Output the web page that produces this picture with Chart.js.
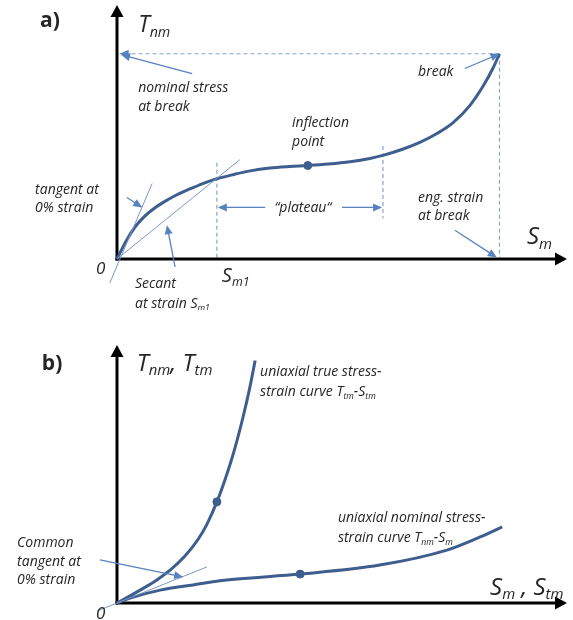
<!DOCTYPE html>
<html><head><meta charset="utf-8">
<script src="https://cdn.jsdelivr.net/npm/chart.js@4.4.1/dist/chart.umd.min.js"></script>
<style>
html,body{margin:0;padding:0;background:#fff;}
#wrap{position:relative;width:573px;height:620px;overflow:hidden;}
canvas{position:absolute;left:0;}
</style></head><body>
<div id="wrap">
<canvas id="ca" width="573" height="310" style="top:0"></canvas>
<canvas id="cb" width="573" height="310" style="top:310px"></canvas>
</div>
<script>
// ---------- data (strain %, stress, arbitrary units) ----------
// panel a: nominal stress-strain curve
const strainA = [0, 2, 4, 6, 8, 10, 13, 16.9, 19.5, 22.2, 26, 29.6, 34, 38.4, 42.4, 47, 51.8, 56.2, 59.1, 63.6, 67.3, 71.1, 74.7, 78.4, 81.3, 83.6, 85.0];
const stressA = [0, 7.0, 12.6, 16.6, 19.6, 22.0, 25.0, 28.1, 30.0, 31.6, 33.3, 34.7, 35.8, 36.4, 36.8, 37.4, 38.3, 39.6, 40.8, 43.3, 45.9, 49.4, 53.7, 60.4, 67.9, 75.3, 80.8];
const inflectionA = [42.4, 36.8];
const strainM1 = 22.2, plateauEnd = 59.1;
const breakA = [85.0, 80.8];
const tangentA_x = [-1.6, 7.8], tangentA_y = [-9.4, 29.7];
const secantA_x = [0, 27.3], secantA_y = [0, 39.1];
// panel b
const strainTrue = [0, 3, 6, 9, 12, 15, 18, 20, 22.2, 24, 26, 28, 29.5, 30.7];
const stressTrue = [0, 2.85, 5.85, 9.15, 13.05, 18.0, 24.6, 30.6, 39.2, 47.8, 58.8, 72.0, 83.4, 94.0];
const strainNom = [0, 2.9, 9.6, 16.9, 24.4, 40.7, 58.4, 73.3, 80.7, 85.6];
const stressNom = [0, 1.9, 5.0, 7.0, 8.9, 11.2, 14.7, 20.5, 25.6, 29.5];
const dotTrue = [22.2, 39.2], dotNom = [40.7, 11.2];
const tangentB_x = [-4.4, 20], tangentB_y = [-3.1, 14];

const pts = (xs, ys) => xs.map((x, i) => ({x, y: ys[i]}));

const CURVE = '#3d5e8e', THIN = '#7b98c6', DASH = '#86a4d0', ARROW = '#5683bf', TXT = '#262626';
const FAM = '"Open Sans", "DejaVu Sans", sans-serif';

function head(ctx, x1, y1, x2, y2, len, w, color) {
  const a = Math.atan2(y2 - y1, x2 - x1);
  ctx.save(); ctx.fillStyle = color; ctx.beginPath();
  ctx.moveTo(x2, y2);
  ctx.lineTo(x2 - len*Math.cos(a) + w*Math.sin(a), y2 - len*Math.sin(a) - w*Math.cos(a));
  ctx.lineTo(x2 - len*Math.cos(a) - w*Math.sin(a), y2 - len*Math.sin(a) + w*Math.cos(a));
  ctx.closePath(); ctx.fill(); ctx.restore();
}
function line(ctx, x1, y1, x2, y2, color, lw, dash) {
  ctx.save(); ctx.strokeStyle = color; ctx.lineWidth = lw; ctx.setLineDash(dash || []);
  ctx.beginPath(); ctx.moveTo(x1, y1); ctx.lineTo(x2, y2); ctx.stroke(); ctx.restore();
}
function rich(ctx, x, y, parts, size, align, style) {
  const sub = size * 0.62;
  let total = 0;
  const segs = parts.map(([t, k]) => {
    const fs = k === 's' ? sub : size;
    ctx.font = `${style} ${fs}px ${FAM}`;
    const w = ctx.measureText(t).width; total += w;
    return {t, k, fs, w};
  });
  let cx = align === 'center' ? x - total/2 : x;
  const base = y + size * 0.36;
  ctx.fillStyle = TXT; ctx.textBaseline = 'alphabetic'; ctx.textAlign = 'left';
  segs.forEach(s => {
    ctx.font = `${style} ${s.fs}px ${FAM}`;
    ctx.fillText(s.t, cx, s.k === 's' ? base + size*0.2 : base);
    cx += s.w;
  });
}

const deco = {
  id: 'deco',
  beforeDatasetsDraw(chart, args, o) {
    const ctx = chart.ctx, sx = chart.scales.x, sy = chart.scales.y, ca = chart.chartArea;
    (o.dashed || []).forEach(d => {
      const [x1, y1, x2, y2] = [sx.getPixelForValue(d[0]), sy.getPixelForValue(d[1]), sx.getPixelForValue(d[2]), sy.getPixelForValue(d[3])];
      line(ctx, x1, y1, x2, y2, DASH, 1.2, [4, 3]);
      if (d[4]) head(ctx, x1, y1, x2, y2, 9, 4, ARROW);
    });
    const ox = sx.getPixelForValue(0), oy = sy.getPixelForValue(0);
    line(ctx, ox, oy + 1.5, ox, ca.top + 10, '#000', 3);
    line(ctx, ox - 1.5, oy, ca.right - 10, oy, '#000', 3);
    head(ctx, ox, oy, ox, ca.top, 12, 6.5, '#000');
    head(ctx, ox, oy, ca.right, oy, 12, 6.5, '#000');
  },
  afterDatasetsDraw(chart, args, o) {
    const ctx = chart.ctx, sx = chart.scales.x, sy = chart.scales.y;
    (o.arrows || []).forEach(d => {
      const [x1, y1, x2, y2] = [sx.getPixelForValue(d[0]), sy.getPixelForValue(d[1]), sx.getPixelForValue(d[2]), sy.getPixelForValue(d[3])];
      line(ctx, x1, y1, x2 - (x2-x1)*0.05, y2 - (y2-y1)*0.05, ARROW, 1.3);
      head(ctx, x1, y1, x2, y2, 9, 4, ARROW);
    });
    (o.labels || []).forEach(l => {
      rich(ctx, sx.getPixelForValue(l.x), sy.getPixelForValue(l.y), l.parts, l.size, l.align || 'left', l.style || 'italic 400');
    });
  }
};

function makeChart(id, datasets, pad, decoOpts) {
  return new Chart(document.getElementById(id), {
    type: 'scatter',
    data: {datasets},
    options: {
      responsive: false, animation: false, devicePixelRatio: 1,
      layout: {padding: pad},
      scales: {x: {type: 'linear', min: 0, max: 100, display: false}, y: {type: 'linear', min: 0, max: 100, display: false}},
      plugins: {legend: {display: false}, tooltip: {enabled: false}, deco: decoOpts},
      events: []
    },
    plugins: [deco]
  });
}
const curveDs = (data) => ({data, showLine: true, borderColor: CURVE, borderWidth: 3, pointRadius: 0, cubicInterpolationMode: 'monotone', clip: false});
const thinDs = (data) => ({data, showLine: true, borderColor: THIN, borderWidth: 1, pointRadius: 0, clip: false});
const dotDs = (p) => ({data: [{x: p[0], y: p[1]}], pointRadius: 4, pointBackgroundColor: CURVE, pointBorderColor: CURVE, clip: false});

const FS = 14;
// ---------- chart a ----------
makeChart('ca', [
  thinDs(pts(tangentA_x, tangentA_y)),
  thinDs(pts(secantA_x, secantA_y)),
  curveDs(pts(strainA, stressA)),
  dotDs(inflectionA)
], {left: 117, right: 6, top: 3, bottom: 51}, {
  dashed: [
    [breakA[0], breakA[1], 0.6, breakA[1], true],
    [breakA[0], breakA[1], breakA[0], 0.5, false],
    [strainM1, 37.9, strainM1, 0.5, false],
    [plateauEnd, 44.5, plateauEnd, 16, false]
  ],
  arrows: [
    [16.7, 73.0, 0.9, 80.4],
    [77.3, 75.0, breakA[0], breakA[1]],
    [75.1, 11.3, 84.4, 0.6],
    [2.2, 24.2, 5.6, 20.3],
    [12.9, -3.1, 11.1, 13.3],
    [32.9, 20.3, strainM1 + 0.2, 20.3],
    [50.0, 20.3, plateauEnd - 0.2, 20.3]
  ],
  labels: [
    {x: -17.1, y: 94.5, parts: [['a)', 'n']], size: 21, style: 'normal 700'},
    {x: 4.7, y: 92.6, parts: [['T', 'n'], ['nm', 's']], size: 23},
    {x: 4.7, y: 67.6, parts: [['nominal stress', 'n']], size: FS},
    {x: 4.7, y: 60.2, parts: [['at break', 'n']], size: FS},
    {x: 66.9, y: 74.2, parts: [['break', 'n']], size: FS},
    {x: 38.9, y: 53.9, parts: [['inflection', 'n']], size: FS},
    {x: 38.9, y: 46.5, parts: [['point', 'n']], size: FS},
    {x: -18.2, y: 27.7, parts: [['tangent at', 'n']], size: FS},
    {x: -18.2, y: 20.3, parts: [['0% strain', 'n']], size: FS},
    {x: 41.3, y: 20.3, parts: [['\u201Cplateau\u201C', 'n']], size: FS, align: 'center'},
    {x: 66.9, y: 24.6, parts: [['eng. strain', 'n']], size: FS},
    {x: 66.9, y: 17.2, parts: [['at break', 'n']], size: FS},
    {x: 91.1, y: 9.4, parts: [['S', 'n'], ['m', 's']], size: 24},
    {x: -3.6, y: -3.5, parts: [['0', 'n']], size: 17, align: 'center'},
    {x: 23.3, y: -6.3, parts: [['S', 'n'], ['m1', 's']], size: 20},
    {x: 4.0, y: -9.4, parts: [['Secant', 'n']], size: FS},
    {x: 4.0, y: -17.2, parts: [['at strain S', 'n'], ['m1', 's']], size: FS}
  ]
});

// ---------- chart b ----------
makeChart('cb', [
  thinDs(pts(tangentB_x, tangentB_y)),
  curveDs(pts(strainTrue, stressTrue)),
  curveDs(pts(strainNom, stressNom)),
  dotDs(dotTrue),
  dotDs(dotNom)
], {left: 117, right: 6, top: 35, bottom: 17}, {
  arrows: [
    [-3.8, 16.7, 14.7, 10.1]
  ],
  labels: [
    {x: -16.7, y: 93.4, parts: [['b)', 'n']], size: 21, style: 'normal 700'},
    {x: 4.4, y: 93.4, parts: [['T', 'n'], ['nm', 's'], [', T', 'n'], ['tm', 's']], size: 24},
    {x: 31.8, y: 89.9, parts: [['uniaxial true stress-', 'n']], size: FS},
    {x: 31.8, y: 82.2, parts: [['strain curve T', 'n'], ['tm', 's'], ['-S', 'n'], ['tm', 's']], size: FS},
    {x: 49.1, y: 33.3, parts: [['uniaxial nominal stress-', 'n']], size: FS},
    {x: 49.1, y: 25.6, parts: [['strain curve T', 'n'], ['nm', 's'], ['-S', 'n'], ['m', 's']], size: FS},
    {x: 82.9, y: 6.6, parts: [['S', 'n'], ['m', 's'], [' , S', 'n'], ['tm', 's']], size: 24},
    {x: -22.2, y: 23.6, parts: [['Common', 'n']], size: FS},
    {x: -22.2, y: 16.3, parts: [['tangent at', 'n']], size: FS},
    {x: -22.2, y: 9.3, parts: [['0% strain', 'n']], size: FS},
    {x: -3.6, y: -3.9, parts: [['0', 'n']], size: 17, align: 'center'}
  ]
});
</script>
</body></html>
